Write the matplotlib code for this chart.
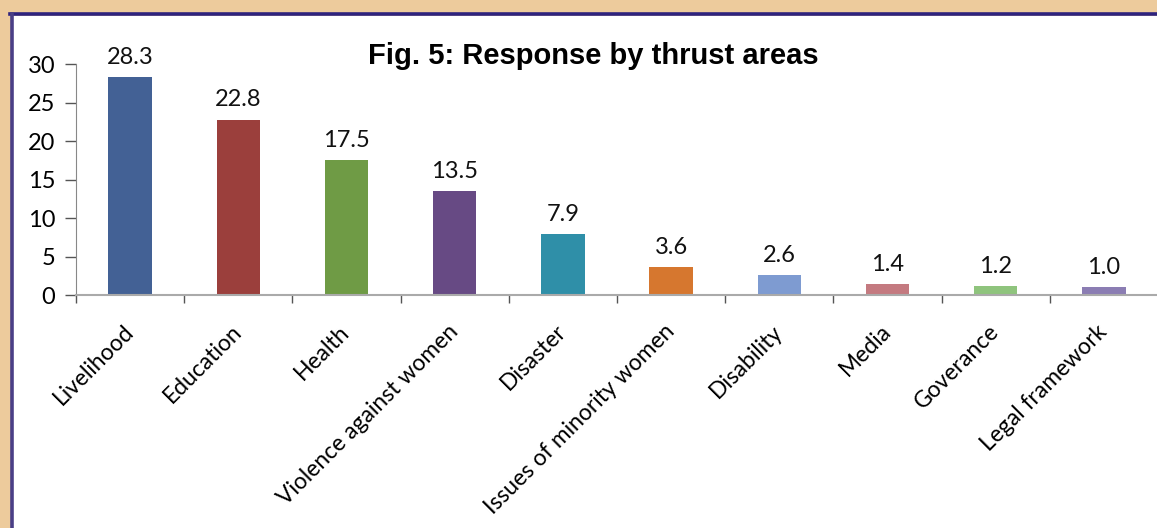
import matplotlib
matplotlib.use("Agg")
import matplotlib.pyplot as plt
from matplotlib.patches import Rectangle
import numpy as np

areas = ['Livelihood', 'Education', 'Health', 'Violence against women', 'Disaster',
         'Issues of minority women', 'Disability', 'Media', 'Goverance', 'Legal framework']
response = [28.3, 22.8, 17.5, 13.5, 7.9, 3.6, 2.6, 1.4, 1.2, 1.0]
bar_colors = ['#436195', '#9B3F3C', '#6F9B45', '#674A84', '#2F8FA8',
              '#D6772F', '#7E9BD1', '#C47A80', '#8FC47D', '#8B7DB3']
yticks = [0, 5, 10, 15, 20, 25, 30]

W, H = 1157, 528
fig = plt.figure(figsize=(W / 100, H / 100), dpi=100)
fig.patch.set_facecolor('#EDCB9C')

# white panel with dark frame on top and left
fig.add_artist(Rectangle((12 / W, 0), 1 - 12 / W, 1 - 16 / H, transform=fig.transFigure,
                         facecolor='white', edgecolor='none', zorder=0))
fig.add_artist(plt.Line2D([10 / W, 1], [1 - 14 / H, 1 - 14 / H], transform=fig.transFigure,
                          color='#2E237E', lw=2.6, zorder=1))
fig.add_artist(plt.Line2D([11.5 / W, 11.5 / W], [0, 1 - 14 / H], transform=fig.transFigure,
                          color='#4A3F86', lw=2.6, zorder=1))

ax = fig.add_axes([76 / W, (H - 295) / H, 1 - 76 / W + 1 / W, (295 - 64.3) / H])
ax.set_facecolor('none')

x = np.arange(len(areas))
ax.bar(x, response, width=0.4, color=bar_colors, zorder=2)
for xi, v in zip(x, response):
    ax.text(xi, v + 1.2, f'{v:.1f}', ha='center', va='bottom', fontsize=17,
            family='Lato', color='#111111')

ax.set_xlim(-0.5, len(areas) - 0.5)
ax.set_ylim(0, 30)
ax.set_yticks(yticks)
ax.set_yticklabels([str(t) for t in yticks], fontsize=17, family='Lato')
ax.tick_params(axis='y', length=8, width=1, color='#555555', pad=7)

ax.set_xticks(x)
ax.set_xticklabels(areas, rotation=45, ha='right', va='center', rotation_mode='anchor',
                   fontsize=16.5, family='Lato')
ax.tick_params(axis='x', which='major', length=0, pad=24)
ax.set_xticks(np.arange(len(areas) + 1) - 0.5, minor=True)
ax.tick_params(axis='x', which='minor', length=6, width=1, color='#555555')

for s in ['top', 'right']:
    ax.spines[s].set_visible(False)
ax.spines['left'].set_color('#888888')
ax.spines['bottom'].set_color('#AAAAAA')
ax.spines['bottom'].set_linewidth(1.5)

fig.text(593 / W, 1 - 64 / H, 'Fig. 5: Response by thrust areas', ha='center', va='baseline',
         fontsize=21, fontweight='bold', family='Liberation Sans')

fig.savefig('out.png', dpi=100, facecolor=fig.get_facecolor())
